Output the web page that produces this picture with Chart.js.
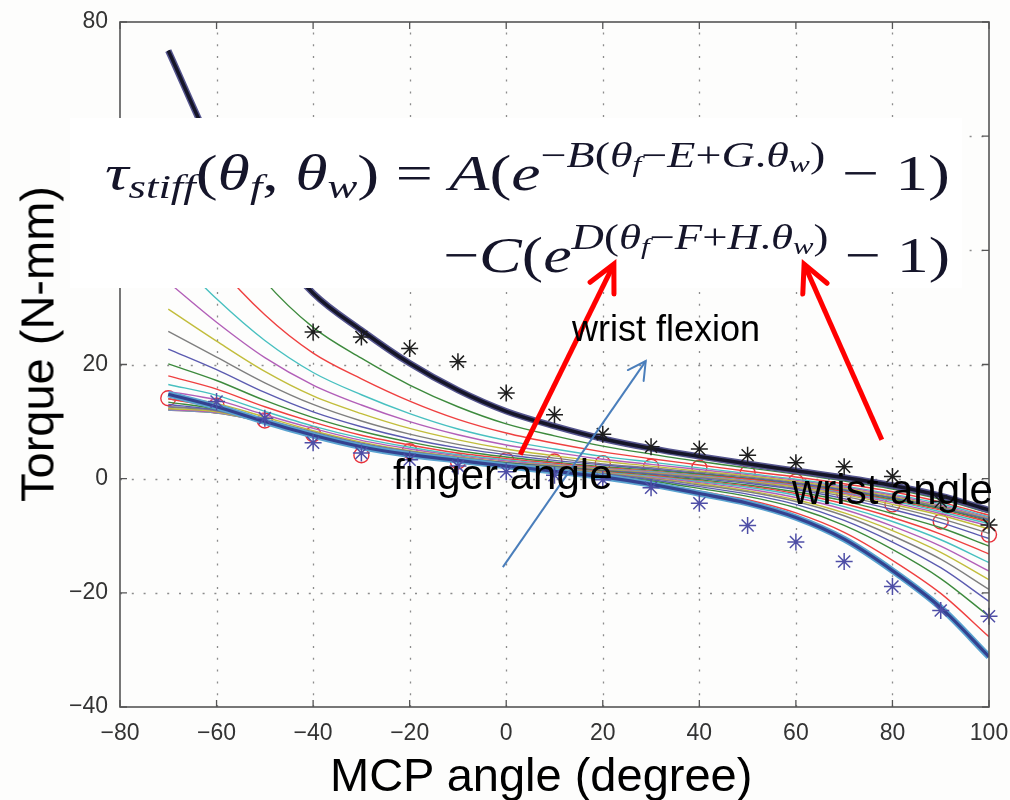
<!DOCTYPE html>
<html>
<head>
<meta charset="utf-8">
<script src="https://cdn.jsdelivr.net/npm/chart.js@4.4.1/dist/chart.umd.min.js"></script>
<style>
  html, body { margin:0; padding:0; background:#fdfdfc; }
  #wrap { position:relative; width:1010px; height:800px; overflow:hidden; }
  #c { position:absolute; left:0; top:0; }
  .lbl { position:absolute; font-family:'Liberation Sans', Arial, sans-serif; color:#000; line-height:1; white-space:nowrap; }
  .eq { position:absolute; font-family:'Liberation Serif','DejaVu Serif',serif; font-size:50px; line-height:1; white-space:nowrap; color:#15152a; transform-origin:0 0; }
  .eq sub, .eq sup { line-height:0; }
  .eq > sub { font-size:34px; vertical-align:-8px; }
  .eq > sup { font-size:35px; vertical-align:23px; }
  .eq sup sub { font-size:24px; vertical-align:-5px; }
</style>
</head>
<body>
<div id="wrap">
  <canvas id="c" width="1010" height="800"></canvas>
  <div class="eq" id="eq1" style="top:148px;"><i>τ</i><sub><i>stiff</i></sub>(<i>θ</i><sub><i>f</i></sub>, <i>θ</i><sub><i>w</i></sub>) = <i>A</i>(<i>e</i><sup>−<i>B</i>(<i>θ</i><sub><i>f</i></sub>−<i>E</i>+<i>G</i>.<i>θ</i><sub><i>w</i></sub>)</sup> − 1)</div>
  <div class="eq" id="eq2" style="top:230px;">−<i>C</i>(<i>e</i><sup><i>D</i>(<i>θ</i><sub><i>f</i></sub>−<i>F</i>+<i>H</i>.<i>θ</i><sub><i>w</i></sub>)</sup> − 1)</div>
  <div class="lbl" style="left:572px; top:311px; font-size:36px;">wrist flexion</div>
  <div class="lbl" style="left:393px; top:454px; font-size:42px;">finger angle</div>
  <div class="lbl" style="left:792px; top:469px; font-size:42px;">wrist angle</div>
  <div class="lbl" style="left:330px; top:751px; font-size:47px;">MCP angle (degree)</div>
  <div class="lbl" style="left:37px; top:344px; font-size:47px; transform:translate(-50%,-50%) rotate(-90deg);">Torque (N-mm)</div>
</div>
<script>
// ---- data ----
const xs = [-70,-60,-50,-40,-30,-20,-10,0,10,20,30,40,50,60,70,80,90,100];

const fitBlack = [75.0,56.5,42.5,32.5,26.0,20.2,15.5,11.8,9.2,7.0,5.3,3.9,2.6,1.4,0.2,-1.2,-3.0,-5.5];
const fitBlue  = [14.8,12.6,10.0,7.6,5.6,4.2,3.2,2.2,1.3,0.3,-1.0,-2.6,-4.3,-6.8,-10.6,-16.1,-22.6,-31.2];

const curve02 = [60.0,45.7,34.6,26.5,21.1,16.4,12.6,9.6,7.5,5.7,4.3,3.0,1.9,0.8,-0.4,-1.8,-3.6,-6.0];
const curve03 = [48.6,37.6,28.7,22.0,17.5,13.6,10.4,8.0,6.2,4.7,3.5,2.4,1.3,0.3,-0.9,-2.3,-4.1,-6.4];
const curve04 = [40.0,31.5,24.2,18.6,14.7,11.4,8.7,6.7,5.2,3.9,2.9,1.9,0.9,-0.1,-1.3,-2.7,-4.4,-6.7];
const curve05 = [34.4,27.4,21.2,16.4,12.9,10.0,7.7,5.9,4.6,3.4,2.5,1.6,0.7,-0.3,-1.5,-2.9,-4.7,-6.9];
const curve06 = [29.7,24.1,18.8,14.5,11.4,8.8,6.8,5.2,4.0,3.0,2.2,1.3,0.5,-0.5,-1.7,-3.1,-4.9,-7.0];
const curve07 = [25.8,21.3,16.8,13.0,10.1,7.8,6.0,4.6,3.6,2.6,1.9,1.1,0.3,-0.7,-1.9,-3.3,-5.0,-7.1];
const curve08 = [22.7,19.1,15.1,11.7,9.1,7.0,5.4,4.2,3.2,2.4,1.7,0.9,0.1,-0.8,-2.0,-3.4,-5.2,-7.2];
const curve09 = [20.1,17.2,13.7,10.7,8.3,6.4,4.9,3.8,2.9,2.1,1.5,0.8,0.0,-1.0,-2.2,-3.6,-5.3,-7.4];
const curve10 = [18.0,15.7,12.6,9.9,7.6,5.9,4.5,3.5,2.7,1.9,1.3,0.6,-0.1,-1.1,-2.3,-3.8,-5.5,-7.6];
const curve11 = [16.5,14.6,11.8,9.2,7.1,5.5,4.2,3.3,2.5,1.8,1.2,0.5,-0.3,-1.2,-2.5,-3.9,-5.8,-7.9];
const curve12 = [15.3,13.8,11.2,8.8,6.7,5.2,4.0,3.1,2.4,1.7,1.1,0.4,-0.4,-1.3,-2.6,-4.2,-6.1,-8.3];
const curve13 = [14.5,13.2,10.8,8.4,6.4,4.9,3.8,2.9,2.3,1.6,1.0,0.3,-0.5,-1.5,-2.8,-4.5,-6.4,-8.8];
const curve14 = [14.0,12.8,10.4,8.2,6.2,4.8,3.7,2.8,2.2,1.5,0.9,0.2,-0.6,-1.7,-3.1,-4.9,-7.0,-9.6];
const curve15 = [12.6,12.0,10.2,8.0,6.1,4.6,3.6,2.8,2.1,1.4,0.8,0.0,-0.8,-1.9,-3.5,-5.4,-7.7,-10.5];
const curve16 = [12.2,11.7,10.0,7.8,5.9,4.5,3.5,2.7,2.0,1.3,0.6,-0.2,-1.1,-2.3,-3.9,-6.1,-8.6,-11.8];
const curve17 = [12.0,11.5,9.9,7.7,5.8,4.5,3.4,2.6,1.9,1.2,0.5,-0.4,-1.3,-2.6,-4.4,-6.8,-9.7,-13.2];
const curve18 = [12.0,11.5,9.9,7.7,5.8,4.4,3.4,2.6,1.9,1.1,0.4,-0.5,-1.5,-2.9,-4.9,-7.5,-10.7,-14.7];
const curve19 = [12.1,11.6,9.9,7.7,5.7,4.4,3.4,2.5,1.8,1.0,0.2,-0.7,-1.8,-3.3,-5.4,-8.3,-11.8,-16.2];
const curve20 = [12.3,11.7,9.8,7.6,5.7,4.3,3.3,2.5,1.7,1.0,0.1,-0.9,-2.1,-3.7,-6.0,-9.1,-12.9,-17.7];
const curve21 = [12.6,11.9,9.8,7.6,5.7,4.3,3.3,2.4,1.7,0.9,0.0,-1.1,-2.3,-4.0,-6.5,-10.0,-14.1,-19.4];
const curve22 = [13.0,12.0,9.9,7.6,5.7,4.3,3.3,2.4,1.6,0.8,-0.2,-1.4,-2.7,-4.5,-7.3,-11.1,-15.6,-21.5];
const curve23 = [13.4,12.2,9.9,7.6,5.6,4.3,3.3,2.3,1.5,0.6,-0.4,-1.7,-3.1,-5.1,-8.2,-12.4,-17.5,-24.1];
const curve24 = [14.0,12.4,10.0,7.6,5.6,4.2,3.2,2.3,1.4,0.5,-0.7,-2.2,-3.7,-6.0,-9.4,-14.3,-20.1,-27.7];

const blackStarX = [-40,-30,-20,-10,0,10,20,30,40,50,60,70,80,90,100];
const blackStarY = [25.7,24.8,22.8,20.5,15.0,11.2,7.8,5.6,5.2,4.1,2.8,2.1,0.4,-4.0,-8.1];
const blueStarX  = [-60,-50,-40,-30,-20,-10,0,10,20,30,40,50,60,70,80,90,100];
const blueStarY  = [13.5,10.6,6.3,4.5,3.3,2.2,1.2,0.6,-0.2,-1.6,-4.3,-8.2,-11.1,-14.5,-18.9,-23.1,-24.1];
const redCircleX = [-70,-60,-50,-40,-30,-20,-10,0,10,20,30,40,50,60,70,80,90,100];
const redCircleY = [14.1,12.8,10.2,7.8,4.1,4.8,3.0,3.2,3.0,2.7,2.1,1.9,1.0,-0.5,-2.5,-4.5,-7.5,-9.8];

const xTickStep = 20, xMin = -80, xMax = 100;
const yTickStep = 20, yMin = -40, yMax = 80;

// ---- fit equation lines to their spans ----
function fitLine(id, left, right) {
  const el = document.getElementById(id);
  el.style.left = left + 'px';
  const w = el.getBoundingClientRect().width;
  el.style.transform = 'scaleX(' + ((right - left) / w) + ')';
}
fitLine('eq1', 105, 950);
fitLine('eq2', 443, 950);

// ---- styling ----
const cycle = ['#5b5bb0','#3d8a3d','#ef4040','#48c0c0','#b25fb8','#c2bd3c','#7f7f7f'];
const thinCurves = [curve02,curve03,curve04,curve05,curve06,curve07,curve08,curve09,curve10,curve11,curve12,curve13,
                    curve14,curve15,curve16,curve17,curve18,curve19,curve20,curve21,curve22,curve23,curve24];

function pts(xa, ya) { return xa.map((x, i) => ({ x: x, y: ya[i] })); }
function lineDs(arr, color, width, order) {
  return { type:'line', data: pts(xs, arr), borderColor: color, borderWidth: width, pointRadius: 0,
           cubicInterpolationMode: 'monotone', fill: false, order: order };
}

const datasets = [];
datasets.push({ type:'line', data: pts(blackStarX, blackStarY), showLine:false, pointStyle:'star', pointRadius:8.5,
  borderColor:'#1e1e1e', borderWidth:1.5, backgroundColor:'rgba(0,0,0,0)', clip:false, order:0 });
datasets.push({ type:'line', data: pts(blueStarX, blueStarY), showLine:false, pointStyle:'star', pointRadius:8.5,
  borderColor:'#4e4ea6', borderWidth:1.5, backgroundColor:'rgba(0,0,0,0)', clip:false, order:0 });
datasets.push({ type:'line', data: pts(redCircleX, redCircleY), showLine:false, pointStyle:'circle', pointRadius:7.5,
  borderColor:'#e8303a', borderWidth:1.4, backgroundColor:'rgba(0,0,0,0)', clip:false, order:300 });
datasets.push(lineDs(fitBlack, '#151528', 3.5, 2));
datasets.push(lineDs(fitBlack, '#55558e', 6.5, 3));
datasets.push(lineDs(fitBlue, '#34418f', 3.2, 2));
datasets.push(lineDs(fitBlue, '#5aa3d0', 6.5, 3));
thinCurves.forEach((arr, i) => {
  const k = i + 2;
  datasets.push(lineDs(arr, cycle[(k - 1) % 7], 1.4, 100 - i));
});

const fmt = v => String(v).replace('-', '\u2212');

// annotation arrows in data coordinates
const arrows = [
  { from:[2.9, 4.2],   to:[22.3, 37.6], color:'#ff0000', width:5, head:30, spread:0.46 },
  { from:[77.8, 6.8],  to:[61.7, 37.6], color:'#ff0000', width:5, head:30, spread:0.46 },
  { from:[-0.7, -15.5], to:[28.9, 20.6], color:'#4a7ebb', width:2, head:20, spread:0.5 }
];

const deco = {
  id: 'deco',
  beforeDatasetsDraw(chart) {
    const { ctx, chartArea: a, scales: { x, y } } = chart;
    ctx.save();
    ctx.strokeStyle = '#8c8c8c';
    ctx.lineWidth = 1.3;
    ctx.setLineDash([2, 9.8]);
    x.ticks.forEach(t => {
      if (t.value === xMin || t.value === xMax) return;
      const px = Math.round(x.getPixelForValue(t.value)) + 0.5;
      ctx.beginPath(); ctx.moveTo(px, a.bottom); ctx.lineTo(px, a.top); ctx.stroke();
    });
    y.ticks.forEach(t => {
      if (t.value === yMin || t.value === yMax) return;
      const py = Math.round(y.getPixelForValue(t.value)) + 0.5;
      ctx.beginPath(); ctx.moveTo(a.left, py); ctx.lineTo(a.right, py); ctx.stroke();
    });
    ctx.restore();
  },
  afterDatasetsDraw(chart) {
    const { ctx, chartArea: a, scales: { x, y } } = chart;
    ctx.save();
    ctx.strokeStyle = '#555';
    ctx.lineWidth = 1.6;
    ctx.setLineDash([]);
    ctx.strokeRect(a.left, a.top, a.right - a.left, a.bottom - a.top);
    ctx.lineWidth = 1.3;
    const tl = 7;
    x.ticks.forEach(t => {
      const px = x.getPixelForValue(t.value);
      ctx.beginPath(); ctx.moveTo(px, a.bottom); ctx.lineTo(px, a.bottom - tl);
      ctx.moveTo(px, a.top); ctx.lineTo(px, a.top + tl); ctx.stroke();
    });
    y.ticks.forEach(t => {
      const py = y.getPixelForValue(t.value);
      ctx.beginPath(); ctx.moveTo(a.left, py); ctx.lineTo(a.left + tl, py);
      ctx.moveTo(a.right, py); ctx.lineTo(a.right - tl, py); ctx.stroke();
    });
    // white equation panel
    ctx.fillStyle = '#ffffff';
    ctx.fillRect(70, 118, 892, 170);
    // arrows
    arrows.forEach(ar => {
      const x0 = x.getPixelForValue(ar.from[0]), y0 = y.getPixelForValue(ar.from[1]);
      const x1 = x.getPixelForValue(ar.to[0]),   y1 = y.getPixelForValue(ar.to[1]);
      const ang = Math.atan2(y0 - y1, x0 - x1);
      ctx.strokeStyle = ar.color;
      ctx.lineWidth = ar.width;
      ctx.lineCap = 'butt';
      ctx.beginPath(); ctx.moveTo(x0, y0); ctx.lineTo(x1, y1); ctx.stroke();
      ctx.lineCap = 'round'; ctx.lineJoin = 'miter';
      ctx.beginPath();
      ctx.moveTo(x1 + ar.head * Math.cos(ang + ar.spread), y1 + ar.head * Math.sin(ang + ar.spread));
      ctx.lineTo(x1, y1);
      ctx.lineTo(x1 + ar.head * Math.cos(ang - ar.spread), y1 + ar.head * Math.sin(ang - ar.spread));
      ctx.stroke();
    });
    ctx.restore();
  }
};

new Chart(document.getElementById('c').getContext('2d'), {
  type: 'line',
  data: { datasets: datasets },
  options: {
    responsive: false,
    animation: false,
    devicePixelRatio: 1,
    layout: { padding: { top: 22, right: 21, left: 0, bottom: 0 } },
    plugins: { legend: { display: false }, tooltip: { enabled: false } },
    scales: {
      x: {
        type: 'linear', min: xMin, max: xMax,
        ticks: { stepSize: xTickStep, color: '#333', font: { family: 'Liberation Sans', size: 23 }, padding: 13,
                 callback: fmt, maxRotation: 0, autoSkip: false },
        grid: { display: false, drawTicks: false },
        border: { display: false },
        afterFit(s) { s.height = 93; s.paddingLeft = 0; s.paddingRight = 0; }
      },
      y: {
        type: 'linear', min: yMin, max: yMax,
        ticks: { stepSize: yTickStep, color: '#333', font: { family: 'Liberation Sans', size: 23 }, padding: 12,
                 callback: fmt },
        grid: { display: false, drawTicks: false },
        border: { display: false },
        afterFit(s) { s.width = 120; s.paddingTop = 0; s.paddingBottom = 0; }
      }
    }
  },
  plugins: [deco]
});
</script>
</body>
</html>
